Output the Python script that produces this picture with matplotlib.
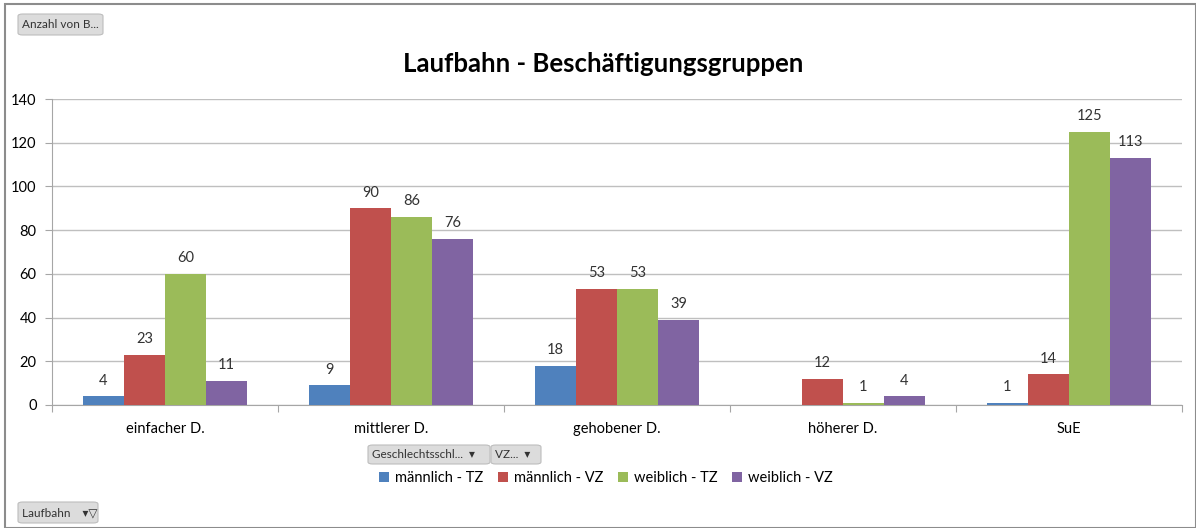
import matplotlib
matplotlib.use("Agg")
import matplotlib.pyplot as plt
import numpy as np
from matplotlib.patches import Rectangle, FancyBboxPatch

categories = ["einfacher D.", "mittlerer D.", "gehobener D.", "höherer D.", "SuE"]
series_names = ["männlich - TZ", "männlich - VZ", "weiblich - TZ", "weiblich - VZ"]
maennlich_tz = [4, 9, 18, np.nan, 1]
maennlich_vz = [23, 90, 53, 12, 14]
weiblich_tz = [60, 86, 53, 1, 125]
weiblich_vz = [11, 76, 39, 4, 113]
colors = ["#4F81BD", "#C0504D", "#9BBB59", "#8064A2"]
title = "Laufbahn - Beschäftigungsgruppen"

plt.rcParams['font.family'] = ['Lato', 'DejaVu Sans']

fig = plt.figure(figsize=(11.96, 5.28), dpi=100)
ax = fig.add_axes([52/1196, 1-405/528, (1182-52)/1196, (405-99)/528])

series = [maennlich_tz, maennlich_vz, weiblich_tz, weiblich_vz]
x = np.arange(len(categories))
w = 41/226
for i, (vals, c, name) in enumerate(zip(series, colors, series_names)):
    pos = x + (i - 1.5) * w
    v = np.array(vals, dtype=float)
    ax.bar(pos, np.nan_to_num(v), width=w, color=c, label=name, zorder=3)
    for p, val in zip(pos, v):
        if not np.isnan(val):
            ax.text(p, val + 4, f"{int(val)}", ha="center", va="bottom",
                    fontsize=10.5, color="#333333", zorder=4)

ax.set_xlim(-0.5, 4.5)
ax.set_ylim(0, 140)
ax.set_yticks(range(0, 141, 20))
ax.yaxis.grid(True, color="#BFBFBF", linewidth=1, zorder=0)
ax.set_axisbelow(True)
ax.set_xticks(np.arange(-0.5, 5, 1))
ax.set_xticklabels([])
ax.set_xticks(x, minor=True)
ax.set_xticklabels(categories, minor=True, fontsize=10.5)
ax.tick_params(axis="x", which="major", length=5, color="#A6A6A6", direction="out")
ax.tick_params(axis="x", which="minor", length=0, pad=12)
ax.tick_params(axis="y", length=5, color="#A6A6A6", labelsize=10.5, pad=6)
for s in ["top", "right"]:
    ax.spines[s].set_visible(False)
for s in ["left", "bottom"]:
    ax.spines[s].set_color("#A6A6A6")

fig.text(603/1196, 1-64/528, title, ha="center", va="center", fontsize=18.5,
         fontweight="bold")

fig.legend(loc="center", bbox_to_anchor=(606/1196, 1-478/528), ncol=4,
           frameon=False, fontsize=10.5, handlelength=0.7, handleheight=0.7,
           handletextpad=0.4, columnspacing=1.0)

def button(x0, y0, x1, y1, text):
    fig.patches.append(FancyBboxPatch((x0/1196, 1-y1/528), (x1-x0)/1196, (y1-y0)/528,
                       boxstyle="round,pad=0,rounding_size=0.004",
                       transform=fig.transFigure, facecolor="#DCDCDC",
                       edgecolor="#BDBDBD", linewidth=0.8))
    fig.text((x0+4)/1196, 1-(y0+y1)/2/528, text, ha="left", va="center",
             fontsize=8.5, color="#333333")

button(18, 14, 103, 35, "Anzahl von B...")
button(368, 445, 490, 464, "Geschlechtsschl...  ▾")
button(491, 445, 541, 464, "VZ...  ▾")
button(18, 502, 98, 523, "Laufbahn    ▾▽")

fig.patches.append(Rectangle((5/1196, 0), 1 - 5/1196, 1 - 4/528, transform=fig.transFigure,
                             fill=False, edgecolor="#8C8C8C", linewidth=1.5))

fig.savefig("out.png", dpi=100)
